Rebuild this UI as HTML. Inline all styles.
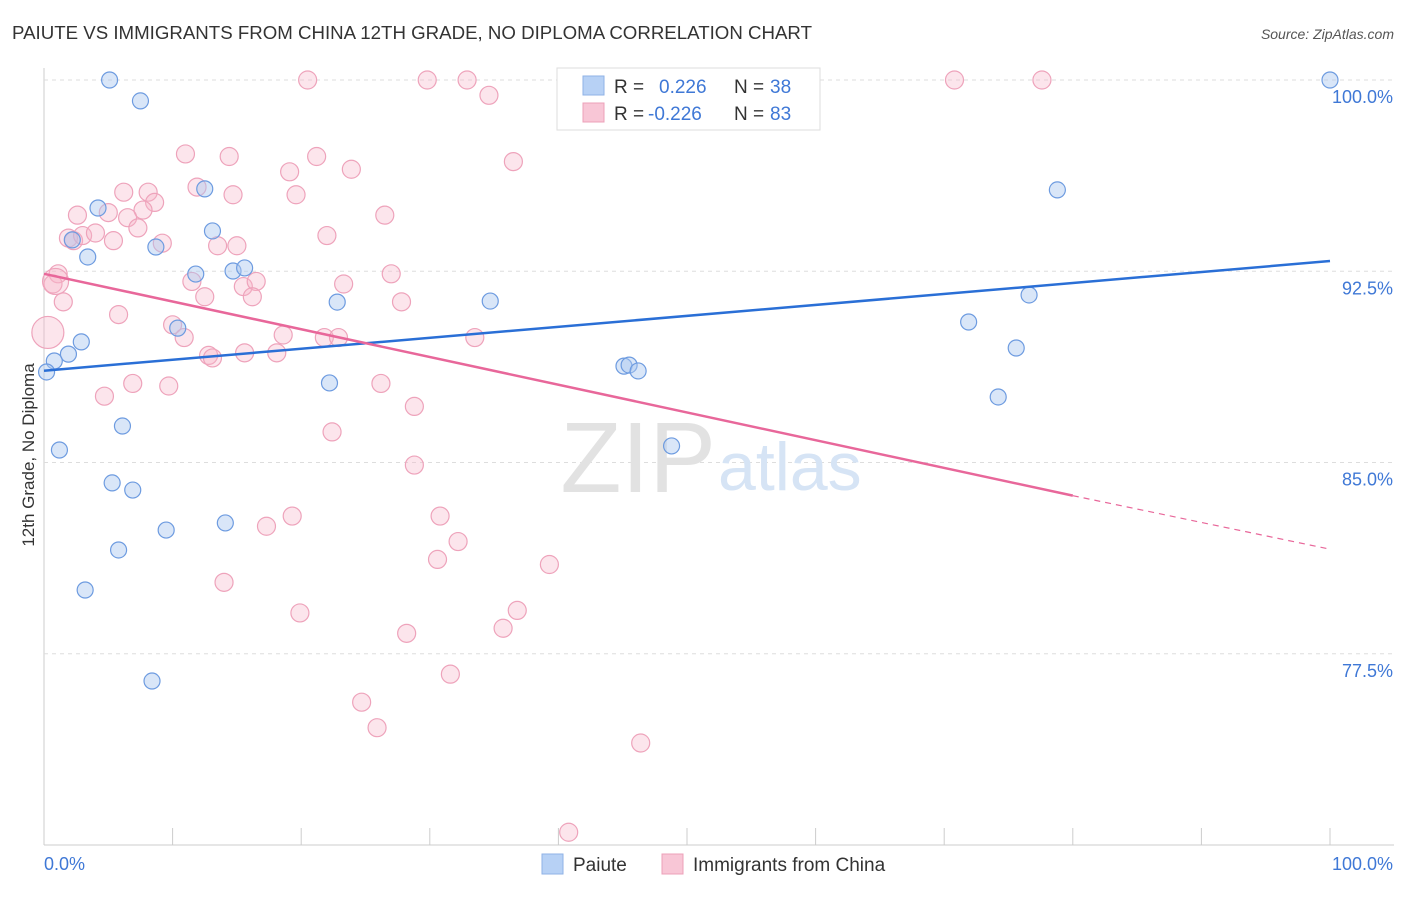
<!DOCTYPE html>
<html><head><meta charset="utf-8"><style>
body{margin:0;background:#fff;font-family:"Liberation Sans",sans-serif}
svg text{font-family:"Liberation Sans",sans-serif}
</style></head><body>
<svg id="chart" width="1406" height="892">
<text x="12" y="39" font-size="18" textLength="800" lengthAdjust="spacingAndGlyphs" fill="#333">PAIUTE VS IMMIGRANTS FROM CHINA 12TH GRADE, NO DIPLOMA CORRELATION CHART</text>
<text x="1394" y="39" font-size="14" fill="#555" font-style="italic" text-anchor="end">Source: ZipAtlas.com</text>
<g id="grid"></g>
<text x="716" y="492" font-size="100" fill="#e2e2e2" font-family="Liberation Serif" text-anchor="end">ZIP</text>
<text x="718" y="490" font-size="68" fill="#d6e4f5">atlas</text>
<text transform="translate(34,455) rotate(-90)" font-size="17" fill="#333" text-anchor="middle">12th Grade, No Diploma</text>
<g id="pts"></g>
<g id="lines"></g>
<g>
<rect x="557" y="68" width="263" height="62" fill="#fff" stroke="#ddd"/>
<rect x="583" y="76" width="21" height="19" fill="#b7d1f5" stroke="#8fb2e6"/>
<rect x="583" y="103" width="21" height="19" fill="#f8c6d6" stroke="#eca0b8"/>
<text x="614" y="93" font-size="19" fill="#333">R = </text><text x="659" y="93" font-size="19" fill="#3f78d6">0.226</text>
<text x="734" y="93" font-size="19" fill="#333">N = </text><text x="770" y="93" font-size="19" fill="#3f78d6">38</text>
<text x="614" y="120" font-size="19" fill="#333">R = </text><text x="648" y="120" font-size="19" fill="#3f78d6">-0.226</text>
<text x="734" y="120" font-size="19" fill="#333">N = </text><text x="770" y="120" font-size="19" fill="#3f78d6">83</text>
</g>
<g>
<rect x="542" y="854" width="21" height="20" fill="#b7d1f5" stroke="#8fb2e6"/>
<text x="573" y="871" font-size="19" fill="#333">Paiute</text>
<rect x="662" y="854" width="21" height="20" fill="#f8c6d6" stroke="#eca0b8"/>
<text x="693" y="871" font-size="19" fill="#333">Immigrants from China</text>
</g>
</svg>
<script>
const yTicks=[100,92.5,85,77.5];
const yTickLabels=["100.0%","92.5%","85.0%","77.5%"];
const xLabels=["0.0%","100.0%"];
const blueX=[5.1,7.5,4.2,12.5,13.1,8.7,2.2,3.4,11.8,14.7,15.6,22.8,34.7,10.4,2.9,1.9,0.8,0.2,22.2,45.1,45.5,46.2,6.1,1.2,48.8,5.3,6.9,9.5,14.1,5.8,3.2,8.4,100,78.8,76.6,71.9,75.6,74.2];
const blueY=[100,99.18,94.98,95.73,94.08,93.45,93.73,93.06,92.39,92.51,92.63,91.29,91.33,90.27,89.73,89.25,88.98,88.55,88.12,88.78,88.82,88.59,86.43,85.49,85.65,84.2,83.92,82.35,82.63,81.57,80.0,76.43,100,95.69,91.57,90.51,89.49,87.57];
const pinkX=[20.5,29.8,32.9,34.6,70.8,77.6,11.0,14.4,21.2,19.1,23.9,36.5,6.2,8.1,11.9,14.7,19.6,8.6,7.7,2.6,5.0,6.5,26.5,1.9,2.3,3.0,4.0,5.4,7.3,9.2,13.5,15.0,22.0,1.1,0.7,27.0,11.5,15.5,16.5,1.5,12.5,16.2,23.3,27.8,5.8,10.0,10.9,18.6,21.8,22.9,33.5,12.8,13.1,15.6,18.1,6.9,4.7,9.7,26.2,28.8,22.4,28.8,17.3,19.3,30.8,32.2,30.6,39.3,14.0,19.9,28.2,36.8,35.7,31.6,24.7,25.9,46.4,40.8,0.3,0.9];
const pinkY=[100,100,100,99.4,100,100,97.1,97.0,97.0,96.4,96.5,96.8,95.6,95.6,95.8,95.5,95.5,95.2,94.9,94.7,94.8,94.6,94.7,93.8,93.7,93.9,94.0,93.7,94.2,93.6,93.5,93.5,93.9,92.4,92.0,92.4,92.1,91.9,92.1,91.3,91.5,91.5,92.0,91.3,90.8,90.4,89.9,90.0,89.9,89.9,89.9,89.2,89.1,89.3,89.3,88.1,87.6,88.0,88.1,87.2,86.2,84.9,82.5,82.9,82.9,81.9,81.2,81.0,80.3,79.1,78.3,79.2,78.5,76.7,75.6,74.6,74.0,70.5,90.1,92.1];
const pinkR=[];for(let i=0;i<pinkX.length;i++)pinkR.push(9);pinkR[78]=16;pinkR[79]=13;
const blueTrend=[[0,88.6],[100,92.9]];
const pinkTrend=[[0,92.4],[80,83.7],[100,81.6]];
const NS="http://www.w3.org/2000/svg";
const X=v=>44+v*12.86, Y=v=>80+(100-v)*25.5;
function mk(t,a,p){const e=document.createElementNS(NS,t);for(const k in a)e.setAttribute(k,a[k]);p.appendChild(e);return e;}
const grid=document.getElementById('grid');
mk('line',{x1:44,y1:68,x2:44,y2:845,stroke:'#ccc'},grid);
mk('line',{x1:44,y1:845,x2:1394,y2:845,stroke:'#ccc'},grid);
for(let i=0;i<=10;i++){const l=mk('line',{x1:X(i*10),y1:828,x2:X(i*10),y2:845,stroke:'#ccc'},grid);

}
yTicks.forEach((t,i)=>{const l=mk('line',{x1:44,y1:Y(t),x2:1394,y2:Y(t),stroke:'#ddd','stroke-dasharray':'4,4'},grid);


const tx=mk('text',{x:1393,y:Y(t)+23,'font-size':18,fill:'#3f78d6','text-anchor':'end'},grid);tx.textContent=yTickLabels[i];

});
const xl0=mk('text',{x:44,y:870,'font-size':18,fill:'#3f78d6'},grid);xl0.textContent=xLabels[0];


const xl1=mk('text',{x:1393,y:870,'font-size':18,fill:'#3f78d6','text-anchor':'end'},grid);xl1.textContent=xLabels[1];


const pts=document.getElementById('pts');
pinkX.forEach((x,i)=>{const c=mk('circle',{cx:X(x),cy:Y(pinkY[i]),r:pinkR[i],fill:'rgba(246,180,200,0.35)',stroke:'#eea3bb','stroke-width':1.2},pts);

});
blueX.forEach((x,i)=>{const c=mk('circle',{cx:X(x),cy:Y(blueY[i]),r:8,fill:'rgba(170,200,240,0.45)',stroke:'#6d9be0','stroke-width':1.2},pts);

});
const ln=document.getElementById('lines');
const b=mk('line',{x1:X(blueTrend[0][0]),y1:Y(blueTrend[0][1]),x2:X(blueTrend[1][0]),y2:Y(blueTrend[1][1]),stroke:'#2a6fd6','stroke-width':2.5},ln);


const p1=mk('line',{x1:X(pinkTrend[0][0]),y1:Y(pinkTrend[0][1]),x2:X(pinkTrend[1][0]),y2:Y(pinkTrend[1][1]),stroke:'#e8679a','stroke-width':2.5},ln);


const p2=mk('line',{x1:X(pinkTrend[1][0]),y1:Y(pinkTrend[1][1]),x2:X(pinkTrend[2][0]),y2:Y(pinkTrend[2][1]),stroke:'#e8679a','stroke-width':1.2,'stroke-dasharray':'6,5'},ln);


</script>
</body></html>
